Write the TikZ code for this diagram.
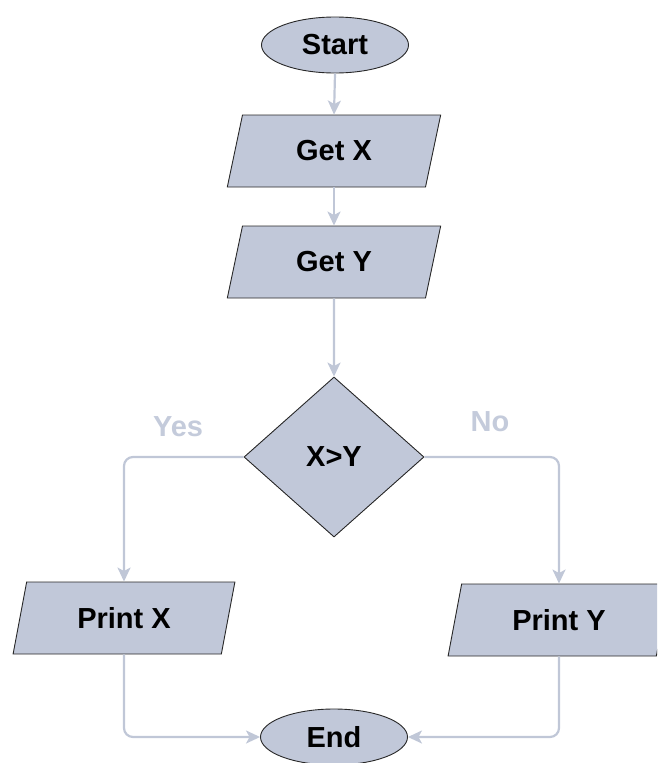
\documentclass[tikz,border=0pt]{standalone}
\usepackage{fontspec}
\setmainfont{Liberation Sans}
\usetikzlibrary{shapes.geometric,arrows.meta}

\definecolor{boxfill}{RGB}{193,200,217}
\definecolor{flowline}{RGB}{192,199,215}
\definecolor{labeltext}{RGB}{196,203,219}
\definecolor{edgedark}{RGB}{40,40,40}

\tikzset{
  base/.style={draw=edgedark, line width=0.9pt, fill=boxfill, inner sep=0pt,
               font=\fontsize{29}{32}\selectfont\bfseries},
  terminal/.style={base, ellipse, minimum width=147pt, minimum height=56pt},
  io/.style={base, trapezium, trapezium left angle=73, trapezium right angle=107,
             trapezium stretches=true, minimum width=214pt, minimum height=72pt},
  wideio/.style={io, minimum width=222pt},
  decision/.style={base, diamond, minimum width=180pt, minimum height=160pt},
  flow/.style={draw=flowline, line width=2.2pt, rounded corners=9pt,
               -{Stealth[length=14pt, width=13pt, inset=3.5pt]}},
  branch/.style={text=labeltext, font=\fontsize{29}{32}\selectfont\bfseries}
}

\begin{document}
\begin{tikzpicture}[x=1pt, y=-1pt]
  \useasboundingbox (0,0) rectangle (657,763);
  \begin{scope}
  \clip (0,0) rectangle (657,763);

  % nodes
  \node[terminal] (start) at (335,45)  {Start};
  \node[io]       (getx)  at (334,151) {Get X};
  \node[io]       (gety)  at (334,262) {Get Y};
  \node[decision] (cmp)   at (334,457) {X>Y};
  \node[wideio]   (prx)   at (124,618) {Print X};
  \node[wideio]   (pry)   at (559,620) {Print Y};
  \node[terminal] (stop)  at (334,737) {End};

  % branch labels
  \node[branch] (yes) at (178,427) {Yes};
  \node[branch] (no)  at (490,422) {No};

  % connectors
  \draw[flow] (start.south) -- (getx.north);
  \draw[flow] (getx.south) -- (gety.north);
  \draw[flow] (gety.south) -- (cmp.north);
  \draw[flow] (cmp.west) -| (prx.north);
  \draw[flow] (cmp.east) -| (pry.north);
  \draw[flow] (prx.south) |- (stop.west);
  \draw[flow] (pry.south) |- (stop.east);
  \end{scope}
\end{tikzpicture}
\end{document}
